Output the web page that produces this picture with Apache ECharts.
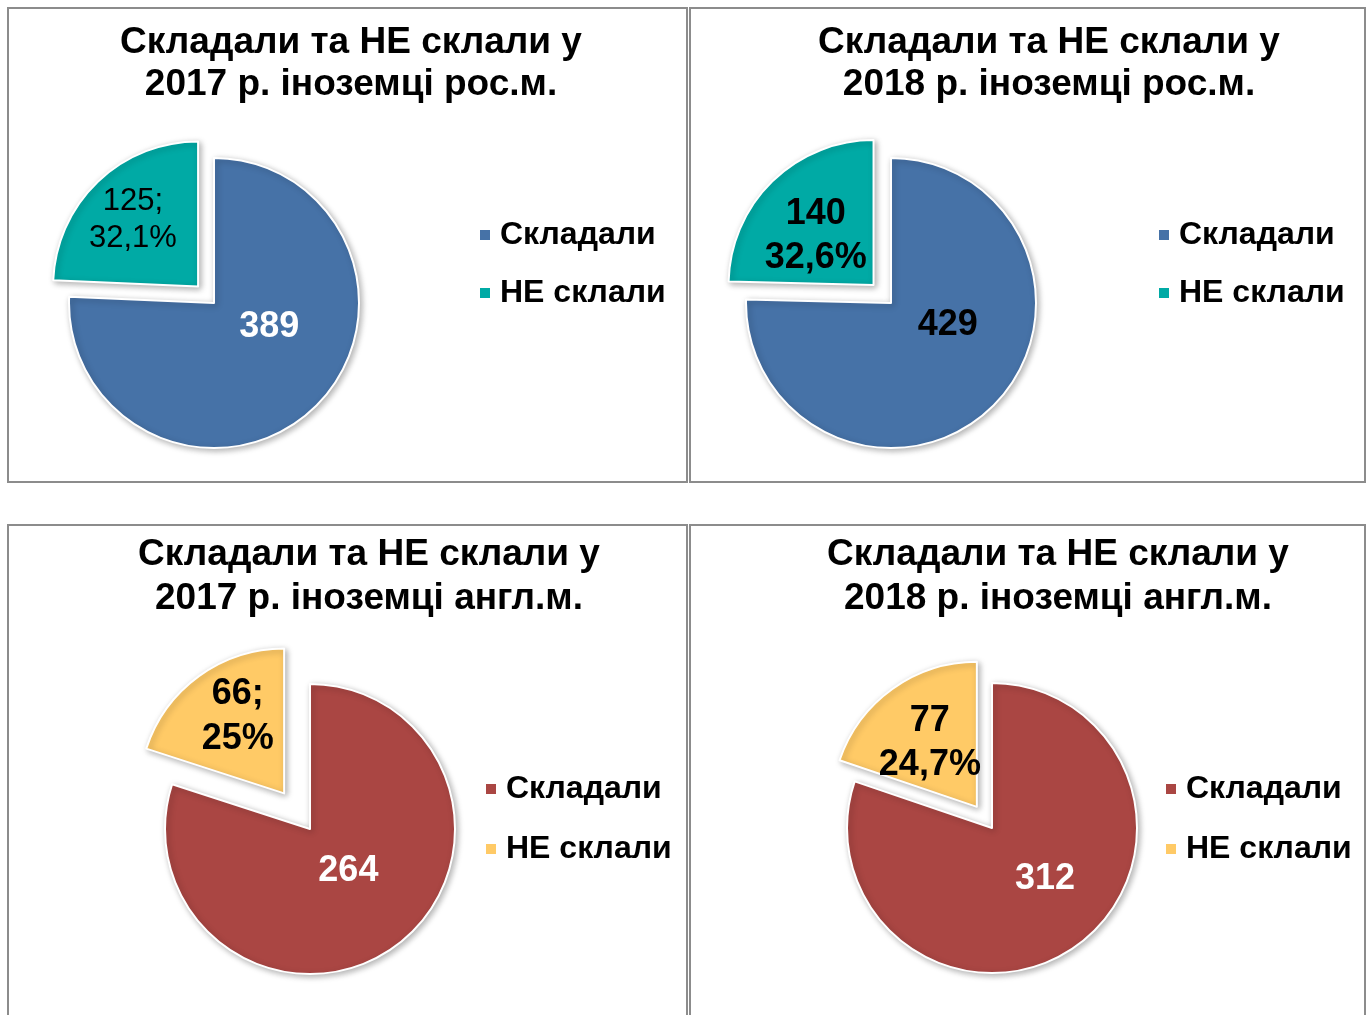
<!DOCTYPE html>
<html>
<head>
<meta charset="utf-8">
<title>Складали та НЕ склали</title>
<script src="https://cdn.jsdelivr.net/npm/echarts@6/dist/echarts.min.js"></script>
<style>
body { margin: 0; background: #fff; width: 1369px; height: 1015px; overflow: hidden; position: relative; }
.panel { position: absolute; box-sizing: border-box; border: 2px solid #8c8c8c; background: #fff; }
.panel .chart { position: absolute; left: 0; top: 0; right: 0; bottom: 0; }
</style>
</head>
<body>
<div class="panel" style="left:7px;top:7px;width:681px;height:476px"><div class="chart" id="c1"></div></div>
<div class="panel" style="left:689px;top:7px;width:677px;height:476px"><div class="chart" id="c2"></div></div>
<div class="panel" style="left:7px;top:524px;width:681px;height:520px"><div class="chart" id="c3"></div></div>
<div class="panel" style="left:689px;top:524px;width:677px;height:520px"><div class="chart" id="c4"></div></div>
<script>
// дані
var categories = ['Складали', 'НЕ склали'];
var titles = [
	'Складали та НЕ склали у\n2017 р. іноземці рос.м.',
	'Складали та НЕ склали у\n2018 р. іноземці рос.м.',
	'Складали та НЕ склали у\n2017 р. іноземці англ.м.',
	'Складали та НЕ склали у\n2018 р. іноземці англ.м.'
];
var passed = [389, 429, 264, 312];
var failed = [125, 140, 66, 77];
var failedLabels = ['125;\n32,1%', '140\n32,6%', '66;\n25%', '77\n24,7%'];

var FONT = '"Liberation Sans", Arial, sans-serif';

// розміщення кожної панелі
var panels = [
	{ id: 'c1', colors: ['#4672A7', '#00AAA5'], center: [205, 294], offset: 23,
	  titleX: 342, titleY: 13, titleLine: 42, legendX: 469, legendY: 210, legendGap: 26,
	  passColor: '#fff', failColor: '#000', failWeight: 'normal', failSize: 31, failLine: 37,
	  passShift: [3, -30], failShift: [-13, -12] },
	{ id: 'c2', colors: ['#4672A7', '#00AAA5'], center: [200, 294], offset: 25,
	  titleX: 358, titleY: 13, titleLine: 42, legendX: 466, legendY: 210, legendGap: 26,
	  passColor: '#000', failColor: '#000', failWeight: 'bold', failSize: 36, failLine: 44,
	  passShift: [4, -32], failShift: [-5, 5] },
	{ id: 'c3', colors: ['#AA4643', '#FFCA66'], center: [301, 303], offset: 44,
	  titleX: 360, titleY: 7, titleLine: 44, legendX: 475, legendY: 247, legendGap: 28,
	  passColor: '#fff', failColor: '#000', failWeight: 'bold', failSize: 36, failLine: 45,
	  passShift: [-6, -19], failShift: [-2, -16] },
	{ id: 'c4', colors: ['#AA4643', '#FFCA66'], center: [301, 302], offset: 26,
	  titleX: 367, titleY: 7, titleLine: 44, legendX: 473, legendY: 247, legendGap: 28,
	  passColor: '#fff', failColor: '#000', failWeight: 'bold', failSize: 36, failLine: 44,
	  passShift: [9, -10], failShift: [-3, -2] }
];

// зсув підпису через padding
function shiftPad(s) {
	var dx = s[0] * 2, dy = s[1] * 2;
	return [dy > 0 ? dy : 0, dx < 0 ? -dx : 0, dy < 0 ? -dy : 0, dx > 0 ? dx : 0];
}

// текст у rich-форматі, щоб padding працював по вертикалі
function richText(str) {
	return String(str).split('\n').map(function(s) { return '{v|' + s + '}'; }).join('\n');
}

function drawPanel(i) {
	var p = panels[i];
	var chart = echarts.init(document.getElementById(p.id));
	var option = {
		animation: false,
		color: p.colors,
		title: {
			text: titles[i],
			left: p.titleX,
			top: p.titleY,
			textAlign: 'center',
			padding: 0,
			textStyle: { fontFamily: FONT, fontSize: 37, fontWeight: 'bold', color: '#000', lineHeight: p.titleLine }
		},
		legend: {
			orient: 'vertical',
			left: p.legendX,
			top: p.legendY,
			padding: 0,
			icon: 'rect',
			itemWidth: 12,
			itemHeight: 12,
			itemGap: p.legendGap,
			selectedMode: false,
			data: categories,
			textStyle: { fontFamily: FONT, fontSize: 32, fontWeight: 'bold', color: '#000', lineHeight: 32, padding: [0, 0, 0, 4] }
		},
		series: [{
			type: 'pie',
			center: p.center,
			radius: 145,
			startAngle: 90,
			clockwise: true,
			selectedMode: 'single',
			selectedOffset: p.offset,
			emphasis: { disabled: true },
			itemStyle: {
				borderColor: '#fff',
				borderWidth: 2,
				shadowBlur: 6,
				shadowOffsetX: 2,
				shadowOffsetY: 2,
				shadowColor: 'rgba(0,0,0,0.3)'
			},
			labelLine: { show: false },
			data: [{
				name: categories[0],
				value: passed[i],
				label: {
					show: true, position: 'inside', formatter: richText(passed[i]),
					padding: shiftPad(p.passShift),
					rich: { v: { fontFamily: FONT, fontSize: 36, fontWeight: 'bold', color: p.passColor, lineHeight: 40 } }
				}
			}, {
				name: categories[1],
				value: failed[i],
				selected: true,
				label: {
					show: true, position: 'inside', formatter: richText(failedLabels[i]),
					padding: shiftPad(p.failShift),
					rich: { v: { fontFamily: FONT, fontSize: p.failSize, fontWeight: p.failWeight, color: p.failColor, lineHeight: p.failLine } }
				}
			}]
		}]
	};
	chart.setOption(option);
}

for (var i = 0; i < panels.length; i++) {
	drawPanel(i);
}
</script>
</body>
</html>
